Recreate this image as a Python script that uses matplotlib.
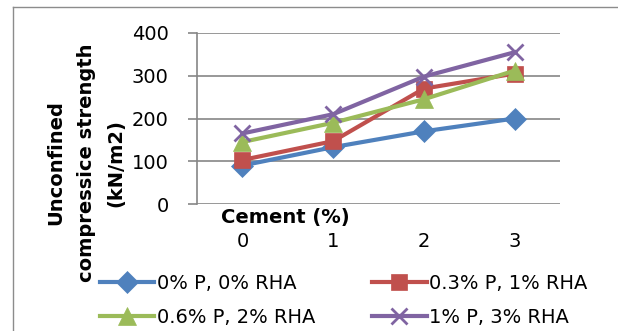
import matplotlib
matplotlib.use("Agg")
import matplotlib.pyplot as plt
from matplotlib.lines import Line2D

# cement content (%) and UCS for each P / RHA mix
cement = ["0", "1", "2", "3"]
ucs_0p_0rha = [90, 133, 170, 200]
ucs_03p_1rha = [103, 147, 270, 305]
ucs_06p_2rha = [145, 190, 245, 312]
ucs_1p_3rha = [165, 210, 298, 355]

series = [
    ("0% P, 0% RHA", ucs_0p_0rha, "#4F81BD", "D", 11),
    ("0.3% P, 1% RHA", ucs_03p_1rha, "#C0504D", "s", 12),
    ("0.6% P, 2% RHA", ucs_06p_2rha, "#9BBB59", "^", 13),
    ("1% P, 3% RHA", ucs_1p_3rha, "#8064A2", "x", 12),
]

W, H = 618, 331
fig = plt.figure(figsize=(W / 100, H / 100), dpi=100)
ax = fig.add_axes([197 / W, 1 - 204 / H, (560 - 197) / W, (204 - 33) / H])

xs = [i + 0.5 for i in range(len(cement))]
lines = []
for label, vals, col, mk, ms in series:
    ln, = ax.plot(xs, vals, color=col, lw=3, marker=mk, markersize=ms,
                  markeredgewidth=2 if mk == "x" else 0.5, markeredgecolor=col,
                  label=label)
    lines.append(ln)

ax.set_xlim(0, 4)
ax.set_ylim(0, 400)
ax.set_yticks([0, 100, 200, 300, 400])
ax.set_xticks(xs)
ax.set_xticklabels(cement)
ax.grid(axis="y", color="#868686", lw=1.2)
ax.set_axisbelow(True)
for s in ["top", "right", "bottom"]:
    ax.spines[s].set_visible(False)
ax.spines["left"].set_color("#868686")
ax.spines["left"].set_linewidth(1.2)
ax.tick_params(axis="y", length=6.5, color="#868686", width=1.2, labelsize=14, pad=14)
ax.tick_params(axis="x", length=0, labelsize=14, pad=20)

fig.text(285 / W, 1 - 218 / H, "Cement (%)", ha="center", va="center",
         fontsize=14, fontweight="bold")
fig.text(86 / W, 1 - 163 / H, "Unconfined\ncompressice strength\n(kN/m2)",
         ha="center", va="center", rotation=90, fontsize=14,
         fontweight="bold", linespacing=1.75)

# legend rows: blue/red on top, green/purple below
order = [0, 2, 1, 3]
fig.legend([lines[i] for i in order], [series[i][0] for i in order],
           loc="upper left", bbox_to_anchor=(100 / W, 1 - 274 / H), ncol=2,
           frameon=False, fontsize=14, handlelength=2.8, handletextpad=0.15,
           columnspacing=2.9, labelspacing=0.75, borderpad=0, borderaxespad=0)

# outer chart frame (left and top edges)
frame_col = "#8c8c8c"
fig.add_artist(Line2D([13 / W, 13 / W], [-0.1, 1 - 7 / H], transform=fig.transFigure,
                      color=frame_col, lw=1))
fig.add_artist(Line2D([13 / W, 1.1], [1 - 7 / H, 1 - 7 / H], transform=fig.transFigure,
                      color=frame_col, lw=1))

fig.savefig("out.png", dpi=100)
